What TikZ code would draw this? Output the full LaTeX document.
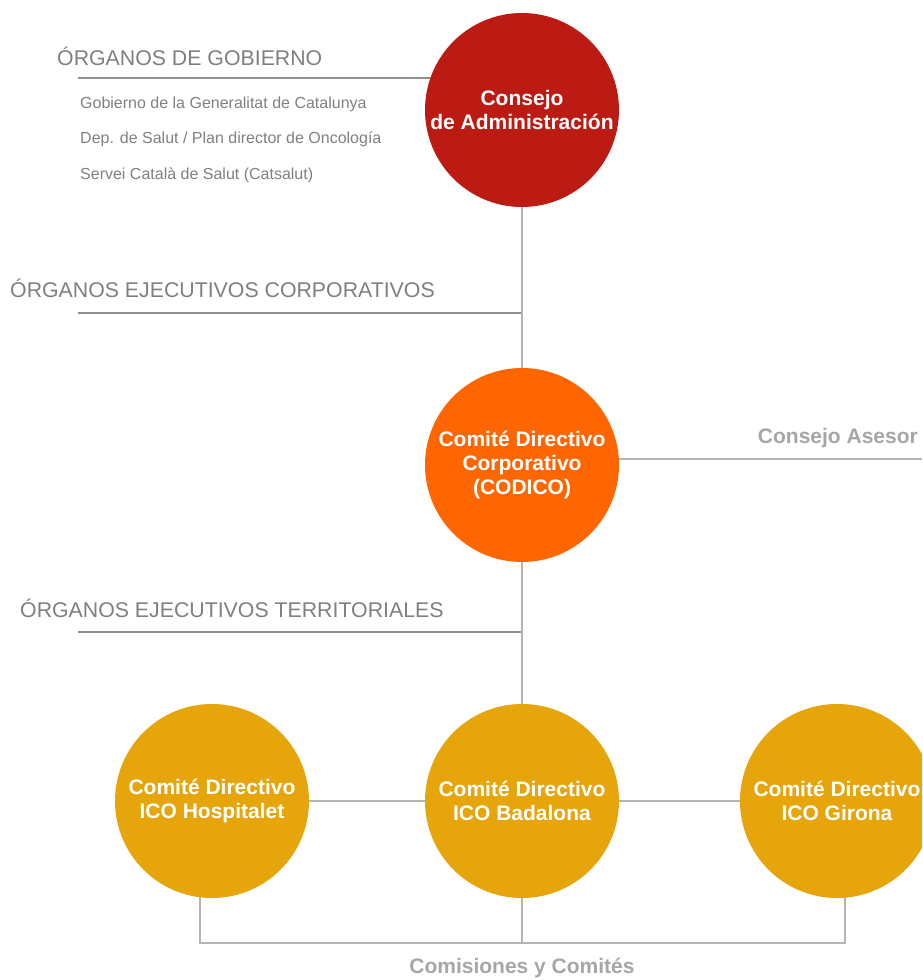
\documentclass[tikz,border=0pt]{standalone}
\usepackage{fontspec}
\setmainfont{Liberation Sans}
\usetikzlibrary{backgrounds}
\definecolor{cred}{HTML}{BB1B13}
\definecolor{corange}{HTML}{FF6600}
\definecolor{cgold}{HTML}{E5A50B}
\definecolor{headgray}{HTML}{7F7F7F}
\definecolor{subgray}{HTML}{808080}
\definecolor{labgray}{HTML}{A6A6A6}
\definecolor{hline}{HTML}{8F8F8F}
\definecolor{cline}{HTML}{B3B3B3}
\tikzset{
  orgcircle/.style={circle, minimum size=194pt, inner sep=0pt, align=center,
    text=white, font=\bfseries\fontsize{21}{24}\selectfont},
  heading/.style={anchor=base west, text=headgray, inner sep=0pt,
    font=\fontsize{21.3}{24}\selectfont},
  subitem/.style={anchor=base west, text=subgray, inner sep=0pt,
    font=\fontsize{16}{19}\selectfont},
  grouplabel/.style={text=labgray, inner sep=0pt,
    font=\bfseries\fontsize{21}{24}\selectfont},
  headline/.style={draw=hline, line width=1.4pt},
  connline/.style={draw=cline, line width=1.6pt},
}
\begin{document}
\begin{tikzpicture}[x=1pt, y=-1pt]
\useasboundingbox (0,0) rectangle (922,980);
\clip (0,0) rectangle (922,980);
% circles
\node[orgcircle, fill=cred] (cons) at (522,110) {Consejo\\de Administración};
\node[orgcircle, fill=corange] (codico) at (522,465) {Comité Directivo\\Corporativo\\(CODICO)};
\node[orgcircle, fill=cgold] (hos) at (212,801) {Comité Directivo\\ICO Hospitalet};
\node[orgcircle, fill=cgold] (bad) at (522,801) {Comité Directivo\\ICO Badalona};
\node[orgcircle, fill=cgold] (gir) at (837,801) {Comité Directivo\\ICO Girona};
% texts
\node[heading] (hgob) at (57,65) {ÓRGANOS DE GOBIERNO};
\node[subitem] (s1) at (80,108) {Gobierno de la Generalitat de Catalunya};
\node[subitem] (s2) at (80,143) {Dep. de Salut / Plan director de Oncología};
\node[subitem] (s3) at (80,179) {Servei Català de Salut (Catsalut)};
\node[heading] (hcorp) at (10,297) {ÓRGANOS EJECUTIVOS CORPORATIVOS};
\node[heading] (hterr) at (20,617) {ÓRGANOS EJECUTIVOS TERRITORIALES};
\node[grouplabel, anchor=east] (asesor) at (918,438) {Consejo Asesor};
\node[grouplabel] (comis) at (522,968) {Comisiones y Comités};
% coordinates
\coordinate (gobL) at (78,78);
\coordinate (corpL) at (78,313);
\coordinate (terrL) at (78,632);
\coordinate (asR) at (922,459);
\coordinate (bl) at (200,943);
\coordinate (bm) at (522,943);
\coordinate (br) at (845,943);
\begin{scope}[on background layer]
  \path[headline] (gobL) -- (gobL -| cons.center);
  \path[headline] (corpL) -- (corpL -| cons.center);
  \path[headline] (terrL) -- (terrL -| codico.center);
  \path[connline] (asR) -- (asR -| codico.center);
  \path[connline] (cons.center) -- (codico.center);
  \path[connline] (codico.center) -- (bad.center);
  \path[connline] (hos.center) -- (bad.center) -- (gir.center);
  \path[connline] (bl |- hos.center) -- (bl) -- (br) -- (br |- gir.center);
  \path[connline] (bad.center) -- (bm);
\end{scope}
\end{tikzpicture}
\end{document}
